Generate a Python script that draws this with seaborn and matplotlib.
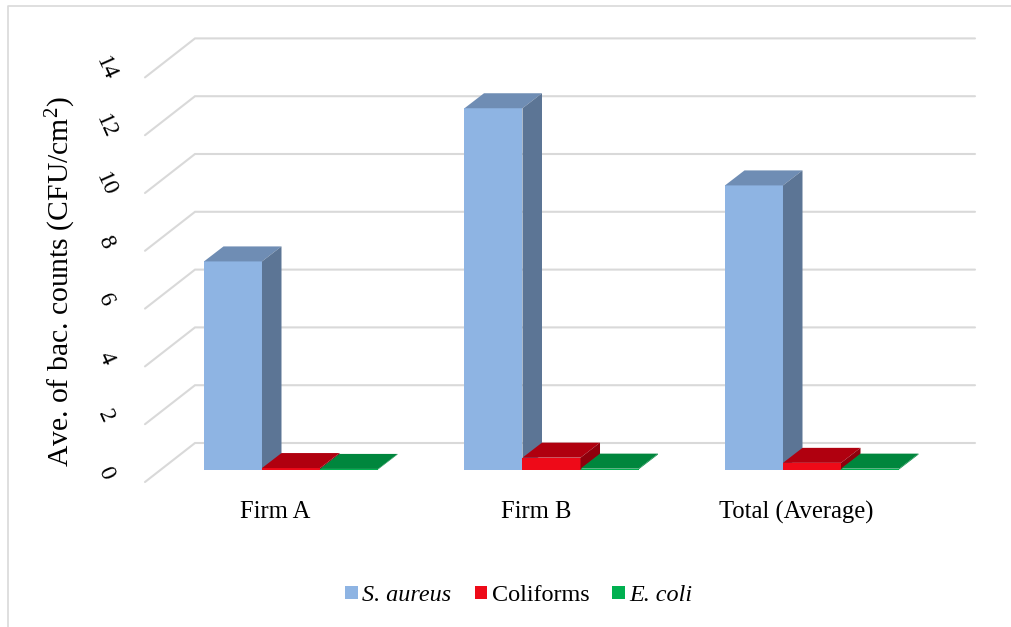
import matplotlib
matplotlib.use("Agg")
import matplotlib.pyplot as plt
from matplotlib.lines import Line2D
from matplotlib.transforms import Affine2D
import pandas as pd
import seaborn as sns

firms = ["Firm A", "Firm B", "Total (Average)"]
bacteria = ["S. aureus", "Coliforms", "E. coli"]
s_aureus = [7.2, 12.5, 9.83]
coliforms = [0.05, 0.41, 0.23]
e_coli = [0.02, 0.03, 0.03]
y_ticks = [0, 2, 4, 6, 8, 10, 12, 14]

front_colors = ["#8EB4E3", "#EE0A18", "#00B050"]
top_colors = ["#6F8DB4", "#B0000F", "#00863D"]
side_colors = ["#5C7595", "#8F000C", "#00863D"]
grid_color = "#D9D9D9"

W, H = 1012, 627
PX_PER_CAT = 260.5
PX_PER_UNIT = 28.9
BASE_PX = 469.5
LEFT_PX = 291 - 0.5 * PX_PER_CAT

sns.set_theme(style="white")
plt.rcParams["font.family"] = ["Liberation Serif", "DejaVu Serif"]
plt.rcParams["mathtext.fontset"] = "custom"
plt.rcParams["mathtext.rm"] = "Liberation Serif"
plt.rcParams["mathtext.default"] = "rm"

fig = plt.figure(figsize=(W / 100, H / 100), dpi=100)
ax = fig.add_axes([LEFT_PX / W, 1 - BASE_PX / H, 3 * PX_PER_CAT / W, 14 * PX_PER_UNIT / H])
ax.patch.set_alpha(0)

df = pd.DataFrame({
    "firm": firms * 3,
    "bacteria": [b for b in bacteria for _ in firms],
    "count": s_aureus + coliforms + e_coli,
})
sns.barplot(data=df, x="firm", y="count", hue="bacteria", hue_order=bacteria,
            palette=front_colors, saturation=1, width=0.668, gap=0, linewidth=0,
            ax=ax, zorder=3)
ax.set_xlim(-0.5, 2.5)
ax.set_ylim(0, 14)

# depth of the extruded columns, in data units
depth_x = 19.5 / PX_PER_CAT
depth_y = 15 / PX_PER_UNIT

for i, container in enumerate(ax.containers):
    for bar in container:
        bar.set_zorder(3 + i)
        x0, x1 = bar.get_x(), bar.get_x() + bar.get_width()
        h = bar.get_height()
        ax.fill([x0, x1, x1 + depth_x, x0 + depth_x],
                [h, h, h + depth_y, h + depth_y],
                color=top_colors[i], lw=0, zorder=3 + i, clip_on=False)
        ax.fill([x1, x1 + depth_x, x1 + depth_x, x1],
                [0, depth_y, h + depth_y, h],
                color=side_colors[i], lw=0, zorder=3 + i, clip_on=False)

# back wall and side wall rules
wall_shift = Affine2D().translate(0, BASE_PX - 443)
wall_left = (195 - 291) / PX_PER_CAT
wall_right = (975 - 291) / PX_PER_CAT
side_dx = -50 / PX_PER_CAT
side_dy = -39 / PX_PER_UNIT
for v in y_ticks:
    ax.plot([wall_left + side_dx, wall_left, wall_right],
            [v + side_dy, v, v],
            color=grid_color, lw=1.5, zorder=1, clip_on=False,
            solid_joinstyle="miter", transform=ax.transData + wall_shift)

ax.set_xlabel("")
ax.set_ylabel("Ave. of bac. counts (CFU/cm$^{2}$)", fontsize=21.3, color="black")
ax.yaxis.set_label_coords(78 / W, 1 - 282 / H, transform=fig.transFigure)

ax.set_yticks(y_ticks)
ax.tick_params(axis="both", length=0, labelsize=17, colors="black")
ax.tick_params(axis="x", pad=0)
for lab in ax.get_yticklabels():
    lab.set_rotation(-66)
    lab.set_rotation_mode("anchor")
    lab.set_ha("center")
    lab.set_va("center")
    lab.set_transform(lab.get_transform() + Affine2D().translate(-50, -4))
for lab in ax.get_xticklabels():
    lab.set_fontsize(17.7)
    lab.set_transform(lab.get_transform() + Affine2D().translate(-15.5, -31))
sns.despine(ax=ax, left=True, bottom=True)

# legend along the foot of the figure
leg = ax.legend(loc="center", bbox_to_anchor=(519 / W, 1 - 595.5 / H), bbox_transform=fig.transFigure,
                ncol=3, frameon=False, fontsize=17.4, handlelength=0.5, handleheight=0.5,
                handletextpad=0.2, columnspacing=0.96, borderpad=0)
for text, style in zip(leg.get_texts(), ["italic", "normal", "italic"]):
    text.set_fontstyle(style)
    text.set_color("black")

# thin chart-area frame
fig.add_artist(Line2D([8 / W, 8 / W, 1], [0, 1 - 6 / H, 1 - 6 / H], color=grid_color, lw=1.2))

fig.savefig("out.png", dpi=100, facecolor="white")
